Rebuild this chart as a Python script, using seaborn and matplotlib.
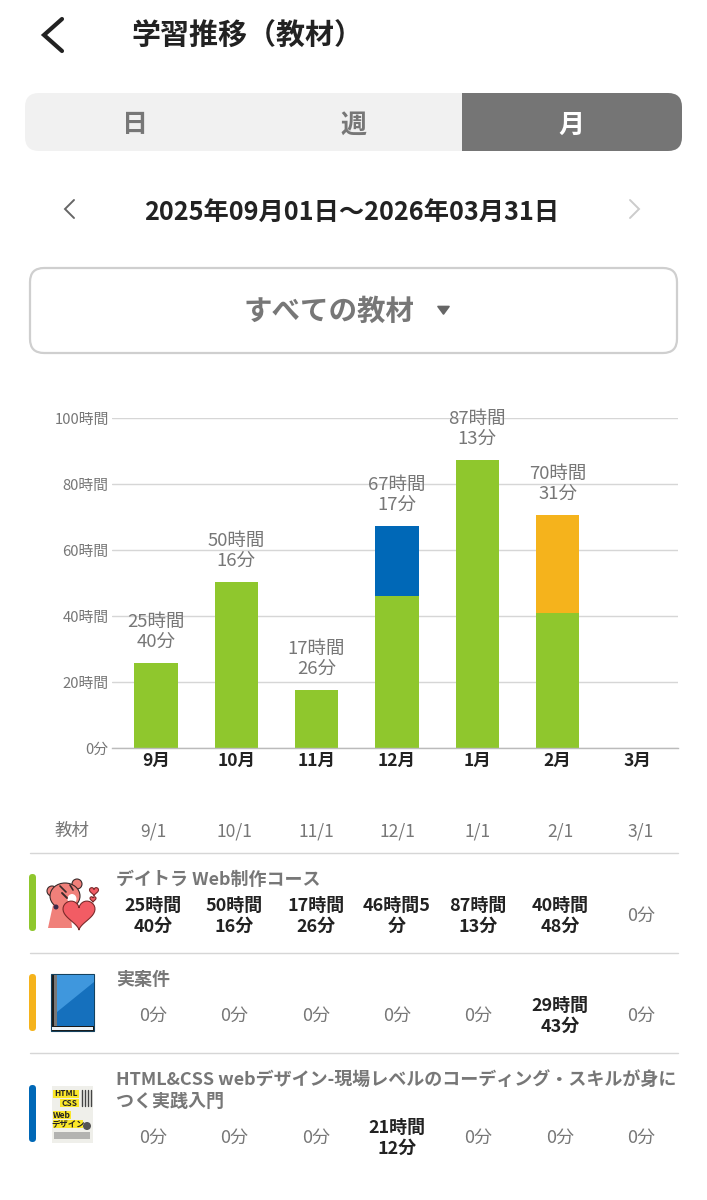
import numpy as np
import pandas as pd
import matplotlib
matplotlib.use("Agg")
import matplotlib.pyplot as plt
from matplotlib.patches import FancyBboxPatch, Rectangle, Circle, Polygon, Ellipse
import seaborn as sns

sns.set_theme(style="white")
plt.rcParams['font.family'] = ['Noto Sans CJK JP', 'DejaVu Sans']

months = ["9月", "10月", "11月", "12月", "1月", "2月", "3月"]
dates = ["9/1", "10/1", "11/1", "12/1", "1/1", "2/1", "3/1"]
series_names = ["デイトラ Web制作コース", "実案件", "HTML&CSS webデザイン"]
daytra_min = [1540, 3016, 1046, 2765, 5233, 2448, 0]
project_min = [0, 0, 0, 0, 0, 1783, 0]
book_min = [0, 0, 0, 1272, 0, 0, 0]
total_labels = ["25時間\n40分", "50時間\n16分", "17時間\n26分", "67時間\n17分", "87時間\n13分", "70時間\n31分", ""]
daytra_labels = ["25時間\n40分", "50時間\n16分", "17時間\n26分", "46時間5\n分", "87時間\n13分", "40時間\n48分", "0分"]
project_labels = ["0分", "0分", "0分", "0分", "0分", "29時間\n43分", "0分"]
book_labels = ["0分", "0分", "0分", "21時間\n12分", "0分", "0分", "0分"]
y_ticks = [0, 20, 40, 60, 80, 100]
y_labels = ["0分", "20時間", "40時間", "60時間", "80時間", "100時間"]

GREEN, ORANGE, BLUE = "#8fc72d", "#f5b31c", "#0068b7"
DARK, GRAY, LINE = "#222222", "#777777", "#d6d6d6"
W, H = 707, 1200

fig = plt.figure(figsize=(7.07, 12), dpi=100, facecolor="white")
ui = fig.add_axes([0, 0, 1, 1])
ui.set_xlim(0, W); ui.set_ylim(H, 0); ui.axis("off")

def px(v):
    return v * 0.72

def txt(x, y, s, size, color=DARK, weight="normal", ha="center", **kw):
    ui.text(x, y + 2, s, fontsize=px(size), color=color, fontweight=weight, ha=ha, va="center", **kw)

def chev(x, y, w, h, color, lw, direction=1):
    ui.plot([x + direction * w, x, x + direction * w], [y - h, y, y + h], color=color, lw=lw,
            solid_capstyle="round", solid_joinstyle="miter")

def heart(cx, cy, s, fc, ec="none"):
    t = np.linspace(0, 2 * np.pi, 60)
    hx = 16 * np.sin(t) ** 3
    hy = 13 * np.cos(t) - 5 * np.cos(2 * t) - 2 * np.cos(3 * t) - np.cos(4 * t)
    ui.add_patch(Polygon(np.c_[cx + s * hx / 16, cy - s * hy / 16], closed=True, fc=fc, ec=ec, lw=0.8))

# Header
chev(44, 35, 18, 16, DARK, 3.0)
txt(131, 34, "学習推移（教材）", 29, DARK, "bold", ha="left")

# Segment control
ui.add_patch(FancyBboxPatch((25, 93), 657, 58, boxstyle="round,pad=0,rounding_size=14", fc="#f1f1f1", ec="none"))
ui.add_patch(FancyBboxPatch((430, 93), 252, 58, boxstyle="round,pad=0,rounding_size=14", fc="#757575", ec="none"))
ui.add_patch(Rectangle((425, 93), 37, 58, fc="#f1f1f1", ec="none"))
txt(135, 123, "日", 26, GRAY, "bold")
txt(353, 123, "週", 26, GRAY, "bold")
txt(571, 123, "月", 26, "white", "bold")

# Date range
chev(65, 209, 9, 9, "#666666", 1.4)
txt(352, 210, "2025年09月01日〜2026年03月31日", 25.3, DARK, "bold")
chev(639, 209, -9, 9, "#cccccc", 1.4)

# Dropdown
ui.add_patch(FancyBboxPatch((30, 268), 647, 85, boxstyle="round,pad=0,rounding_size=14", fc="white", ec="#cfcfcf", lw=1.6))
txt(329, 310, "すべての教材", 28.5, GRAY, "bold")
ui.add_patch(Polygon([[438, 306.5], [449, 306.5], [443.5, 314]], closed=True, fc="#666666", ec="#666666", lw=1.2, joinstyle="round"))

# Chart
df = pd.DataFrame({"month": months, "daytra": np.array(daytra_min) / 60,
                   "project": np.array(project_min) / 60, "book": np.array(book_min) / 60})
ax = fig.add_axes([112 / W, 1 - 748 / H, (678 - 112) / W, (748 - 418) / H])
ax.patch.set_alpha(0)
opts = dict(width=0.54, saturation=1, linewidth=0, ax=ax, zorder=3)
sns.barplot(data=df, x="month", y="daytra", color=GREEN, **opts)
sns.barplot(data=df, x="month", y="project", bottom=df["daytra"], color=ORANGE, **opts)
sns.barplot(data=df, x="month", y="book", bottom=df["daytra"] + df["project"], color=BLUE, **opts)
ax.set_xlim(-0.548, 6.5)
ax.set_ylim(0, 100)
ax.set_xlabel(""); ax.set_ylabel("")
ax.set_yticks(y_ticks)
ax.set_yticklabels(y_labels, fontsize=px(14.8), color=GRAY)
ax.tick_params(axis="y", length=0, pad=2.5)
ax.tick_params(axis="x", length=0, pad=3)
ax.set_xticks(range(len(months)))
ax.set_xticklabels(months, fontsize=px(17.5), fontweight="bold", color=DARK)
ax.grid(axis="y", color=LINE, lw=1, zorder=0)
ax.grid(axis="x", visible=False)
for s in ["top", "right", "left"]:
    ax.spines[s].set_visible(False)
ax.spines["bottom"].set_color("#bbbbbb")
ax.spines["bottom"].set_linewidth(1)
ax.spines["bottom"].set_zorder(4)
totals = df["daytra"] + df["project"] + df["book"]
for i, (t, lab) in enumerate(zip(totals, total_labels)):
    ax.annotate(lab, (i, t), xytext=(0, 9), textcoords="offset points", ha="center", va="bottom",
                fontsize=px(18.5), color=GRAY, linespacing=1.12, annotation_clip=False)

# Table
col_x = [153, 234, 316, 397, 478, 560, 641]
txt(72, 829, "教材", 17.5, GRAY)
for x, d in zip(col_x, dates):
    txt(x, 829, d, 17.5, GRAY)
for y in [852.5, 952.5, 1052.5]:
    ui.plot([30, 678], [y, y], color=LINE, lw=1)

def cells(labels, y):
    for x, lab in zip(col_x, labels):
        if "時間" in lab:
            txt(x, y, lab, 18, DARK, "bold", linespacing=1.2)
        else:
            txt(x, y, lab, 18, GRAY)

for ytop, ybot, col in [(874, 931, GREEN), (974, 1031, ORANGE), (1085, 1142, BLUE)]:
    ui.add_patch(FancyBboxPatch((29, ytop), 7, ybot - ytop, boxstyle="round,pad=0,rounding_size=3.5", fc=col, ec="none"))

txt(116, 878, series_names[0], 18, GRAY, "bold", ha="left")
cells(daytra_labels, 914)
txt(116, 978, series_names[1], 18, GRAY, "bold", ha="left")
cells(project_labels, 1014)
txt(116, 1078, "HTML&CSS webデザイン-現場レベルのコーディング・スキルが身に", 18.05, GRAY, "bold", ha="left")
txt(116, 1100, "つく実践入門", 18, GRAY, "bold", ha="left")
cells(book_labels, 1136)

# Bear icon
BEAR = "#f0807a"
for c in [(52, 891, 5), (77, 884, 5)]:
    ui.add_patch(Circle(c[:2], c[2], fc=BEAR, ec="#3a2a2a", lw=0.8))
ui.add_patch(Ellipse((65, 896), 30, 26, fc=BEAR, ec="#3a2a2a", lw=0.8))
ui.add_patch(Polygon([[53, 905], [70, 905], [72, 928], [48, 928]], closed=True, fc=BEAR, ec="none"))
ui.add_patch(Ellipse((72, 899), 9, 10, fc="white", ec="none"))
ui.plot([60, 66], [886, 892], color="#3a2a2a", lw=1.2)
ui.plot([70, 73], [885, 890], color="#3a2a2a", lw=1.2)
ui.plot([62, 67], [893, 898], color="#3a2a2a", lw=1.4)
ui.add_patch(Circle((56, 907), 2.5, fc="#3a2a4a", ec="none"))
heart(79, 913, 16, "#f25c64", "#7a2a2a")
heart(94, 891, 4.5, "#f25c64", "#7a2a2a")
heart(93, 899, 3, "#f25c64", "#7a2a2a")

# Book icon
ui.add_patch(Rectangle((51, 974), 43, 57, fc="#1a1a1a", ec="#14425f", lw=0.8))
ui.add_patch(Rectangle((54, 975), 3, 51, fc="#777777", ec="none"))
ui.add_patch(Rectangle((57, 975), 37, 51, fc="#1570bd", ec="none"))
ui.add_patch(Polygon([[57, 975], [94, 975], [94, 982], [57, 1012]], closed=True, fc="#3f97dd", ec="none"))
ui.add_patch(Rectangle((52, 1027), 41, 3, fc="#eef4f8", ec="none"))

# Cover icon
ui.add_patch(Rectangle((52, 1086), 41, 57, fc="#efefea", ec="none"))
for yy, ww, s in [(1094, 26, "HTML"), (1103, 19, "CSS"), (1115, 18, "Web"), (1124, 30, "デザイン")]:
    x0 = 53 if s != "CSS" else 60
    ui.add_patch(Rectangle((x0, yy - 4.5), ww, 8.5, fc="#fbe72a", ec="none"))
    ui.text(x0 + ww / 2, yy, s, fontsize=6, color="#222222", fontweight="bold", ha="center", va="center")
for xx in [82, 85, 88, 91]:
    ui.plot([xx, xx], [1090, 1106], color="#444444", lw=1)
ui.add_patch(Rectangle((54, 1132), 36, 7, fc="#9a9a9a", ec="none", alpha=0.7))
ui.add_patch(Circle((87, 1126), 4, fc="#555555", ec="none"))

fig.savefig("out.png", dpi=100, facecolor="white")
